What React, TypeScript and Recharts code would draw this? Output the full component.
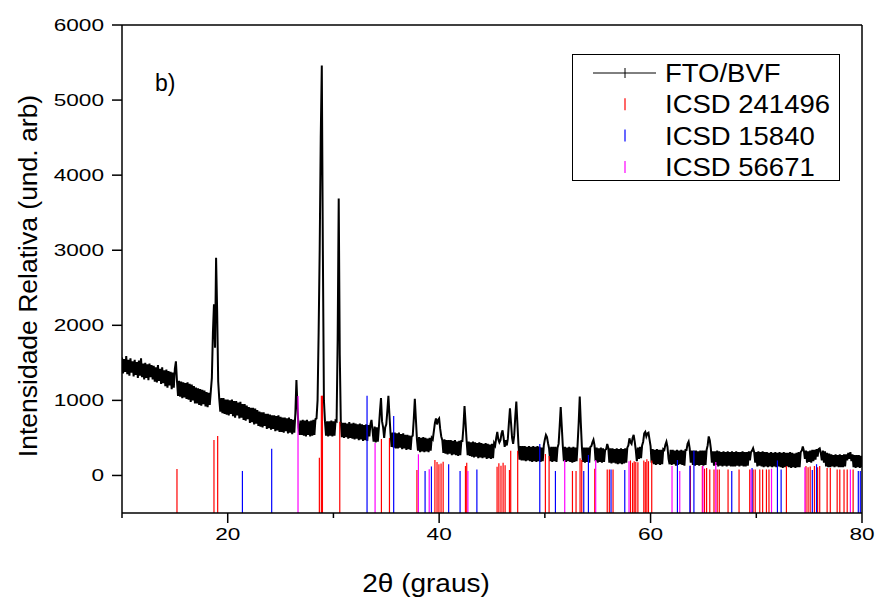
import { LineChart, Line, XAxis, YAxis, ReferenceLine, Legend } from 'recharts';

const FONT = 'Arial, "Liberation Sans", sans-serif';

// FTO/BVF scan: 2θ from 10.0 to 80.0 in 0.1° steps, one row per degree
const scanStart = 10;
const scanStep = 0.1;
const ftoBvfCounts: number[][] = [
  [1570, 1360, 1550, 1380, 1590, 1350, 1540, 1330, 1560, 1370],
  [1520, 1320, 1540, 1340, 1510, 1300, 1530, 1330, 1560, 1310],
  [1490, 1280, 1500, 1300, 1480, 1270, 1490, 1310, 1470, 1280],
  [1460, 1250, 1440, 1240, 1470, 1260, 1420, 1220, 1440, 1230],
  [1400, 1190, 1410, 1170, 1390, 1200, 1380, 1150, 1370, 1170],
  [1420, 1520, 1260, 1060, 1260, 1050, 1250, 1030, 1240, 1040],
  [1230, 1020, 1240, 1010, 1220, 980, 1210, 1000, 1190, 960],
  [1170, 960, 1160, 940, 1150, 930, 1140, 950, 1130, 920],
  [1110, 910, 1100, 940, 1120, 1300, 1900, 2280, 1700, 2900],
  [2200, 1250, 1020, 850, 1030, 830, 1030, 820, 1010, 810],
  [1010, 800, 1000, 820, 1010, 790, 990, 770, 990, 800],
  [970, 760, 980, 770, 950, 740, 950, 730, 930, 750],
  [910, 700, 900, 710, 900, 680, 890, 690, 870, 660],
  [850, 650, 840, 640, 840, 660, 820, 620, 820, 630],
  [810, 610, 800, 620, 800, 590, 790, 600, 800, 580],
  [780, 580, 770, 570, 770, 590, 760, 560, 770, 570],
  [750, 550, 740, 570, 830, 1270, 900, 640, 540, 730],
  [540, 740, 530, 730, 520, 740, 540, 720, 520, 730],
  [530, 740, 540, 750, 760, 1000, 1900, 3000, 4500, 5460],
  [3000, 1000, 720, 530, 720, 520, 720, 530, 730, 520],
  [720, 530, 730, 720, 1800, 3690, 1600, 700, 510, 700],
  [500, 700, 510, 690, 490, 710, 500, 690, 490, 700],
  [480, 690, 490, 680, 470, 690, 480, 680, 460, 670],
  [470, 680, 460, 670, 520, 680, 740, 600, 450, 650],
  [440, 640, 450, 640, 850, 1030, 720, 640, 500, 640],
  [680, 860, 1060, 800, 560, 380, 570, 370, 570, 360],
  [560, 360, 570, 370, 550, 350, 560, 360, 540, 340],
  [540, 350, 530, 340, 520, 530, 750, 1020, 750, 480],
  [330, 510, 310, 500, 320, 510, 310, 500, 320, 490],
  [310, 500, 330, 500, 480, 590, 700, 760, 680, 740],
  [760, 620, 520, 470, 300, 480, 290, 470, 280, 470],
  [290, 470, 270, 460, 280, 470, 270, 450, 260, 460],
  [270, 460, 460, 650, 925, 700, 460, 270, 450, 260],
  [440, 250, 450, 240, 440, 250, 430, 230, 440, 240],
  [430, 230, 420, 240, 430, 220, 420, 230, 410, 220],
  [420, 230, 430, 400, 500, 580, 480, 440, 470, 560],
  [600, 500, 380, 470, 400, 490, 700, 895, 700, 500],
  [420, 530, 780, 985, 700, 420, 210, 390, 200, 390],
  [200, 390, 190, 380, 200, 390, 190, 380, 180, 390],
  [190, 380, 180, 390, 190, 380, 180, 370, 190, 400],
  [480, 540, 510, 430, 360, 190, 380, 180, 380, 190],
  [380, 180, 370, 420, 650, 910, 650, 390, 190, 380],
  [180, 370, 190, 380, 180, 370, 170, 380, 180, 370],
  [190, 420, 700, 1050, 700, 390, 180, 370, 170, 370],
  [180, 370, 170, 380, 390, 440, 475, 400, 190, 370],
  [170, 360, 180, 370, 170, 360, 180, 340, 350, 420],
  [370, 170, 360, 160, 360, 170, 350, 160, 360, 150],
  [350, 160, 360, 150, 350, 160, 360, 170, 370, 400],
  [495, 440, 420, 500, 540, 450, 340, 190, 370, 220],
  [380, 230, 400, 450, 560, 580, 520, 560, 570, 480],
  [390, 170, 350, 150, 340, 140, 350, 150, 340, 140],
  [340, 150, 350, 340, 410, 450, 380, 220, 150, 340],
  [140, 340, 150, 330, 130, 340, 140, 330, 150, 340],
  [140, 330, 130, 340, 340, 420, 450, 360, 170, 330],
  [140, 330, 130, 330, 140, 320, 130, 330, 140, 330],
  [130, 330, 140, 340, 400, 520, 470, 360, 170, 320],
  [130, 320, 140, 330, 120, 320, 130, 310, 120, 320],
  [130, 310, 120, 320, 130, 310, 120, 320, 120, 310],
  [120, 320, 130, 310, 120, 310, 130, 320, 120, 310],
  [120, 310, 130, 320, 200, 310, 330, 362, 310, 170],
  [310, 120, 320, 130, 310, 120, 320, 110, 310, 120],
  [310, 110, 300, 120, 310, 110, 300, 120, 310, 110],
  [300, 120, 310, 110, 300, 100, 310, 110, 300, 120],
  [300, 110, 310, 100, 300, 110, 290, 100, 300, 110],
  [310, 110, 310, 330, 385, 330, 220, 330, 170, 320],
  [180, 330, 170, 340, 190, 340, 210, 350, 250, 350],
  [360, 300, 200, 330, 170, 320, 120, 300, 110, 290],
  [110, 280, 120, 270, 110, 280, 120, 270, 110, 280],
  [110, 270, 110, 280, 120, 280, 200, 300, 220, 310],
  [190, 280, 110, 270, 100, 270, 110, 270, 100, 260],
];
const ftoBvfLast = 110;

// reference patterns: [2θ, stick top]
const icsd241496: [number, number][] = [
  [15.2, 87], [18.7, 473], [19.05, 527], [28.67, 237], [28.86, 1063], [28.96, 1063],
  [30.6, 717], [34.54, 486], [35.3, 500], [37.9, 73], [39.6, 206], [39.8, 180],
  [39.98, 150], [40.18, 160], [40.38, 184], [42.49, 126], [42.61, 170], [45.48, 115],
  [45.65, 164], [45.85, 128], [46.05, 168], [46.24, 137], [46.65, 73], [46.77, 330],
  [47.43, 330], [50.05, 286], [50.4, 260], [52.61, 60], [52.95, 60], [53.33, 229],
  [53.49, 206], [54.72, 90], [55.9, 80], [56.1, 80], [56.45, 80], [58.1, 200],
  [58.3, 170], [58.45, 190], [58.6, 180], [58.8, 175], [59.36, 200], [59.5, 180],
  [59.65, 215], [59.8, 190], [60.11, 200], [63.77, 130], [64.9, 126], [65.1, 90],
  [65.3, 100], [65.6, 80], [66.0, 80], [66.3, 80], [66.5, 80], [67.33, 80],
  [68.37, 80], [69.38, 80], [69.7, 80], [69.9, 80], [70.33, 80], [70.6, 80],
  [70.96, 80], [71.2, 80], [72.85, 126], [74.7, 126], [74.9, 110], [75.1, 120],
  [75.5, 126], [75.8, 110], [76.0, 126], [76.7, 101], [77.0, 101], [77.65, 80],
  [77.9, 80], [78.3, 80], [78.6, 80], [79.16, 80],
];
const icsd15840: [number, number][] = [
  [21.39, 60], [24.16, 357], [33.18, 1063], [35.7, 792], [38.67, 60], [39.27, 120],
  [40.9, 150], [41.98, 60], [43.57, 80], [49.52, 420], [51.0, 60], [53.68, 60],
  [54.12, 273], [56.26, 80], [57.56, 73], [62.54, 206], [63.72, 130], [64.1, 330],
  [67.68, 60], [69.6, 101], [72.0, 200], [72.35, 80], [75.3, 73], [75.7, 150],
  [79.65, 60], [79.84, 60],
];
const icsd56671: [number, number][] = [
  [26.65, 1058], [33.94, 433], [38.04, 282], [39.06, 82], [42.72, 60], [51.88, 206],
  [54.81, 206], [57.96, 190], [62.03, 127], [62.76, 60], [64.95, 126], [66.17, 178],
  [69.5, 80], [71.44, 90], [74.6, 110], [78.9, 80],
];

const xTicks = [10, 20, 30, 40, 50, 60, 70, 80];
const xLabelTicks = [20, 40, 60, 80];
const yTicks = [0, 1000, 2000, 3000, 4000, 5000, 6000];
const yMinorTicks = [-500, 0, 500, 1000, 1500, 2000, 2500, 3000, 3500, 4000, 4500, 5000, 5500, 6000];

const legendRows = [
  { name: 'FTO/BVF', color: '#000000', kind: 'line' },
  { name: 'ICSD 241496', color: '#ff0000', kind: 'stick' },
  { name: 'ICSD 15840', color: '#0000ff', kind: 'stick' },
  { name: 'ICSD 56671', color: '#ff00ff', kind: 'stick' },
];

const scan = [...ftoBvfCounts.flat(), ftoBvfLast].map((counts, i) => ({
  theta: Math.round((scanStart + i * scanStep) * 10) / 10,
  counts,
}));

function YTick(props: any) {
  const { x, y, payload } = props;
  return (
    <g transform={`translate(${x},${y}) scale(1.37,1)`}>
      <text x={0} y={0} dy="0.36em" textAnchor="end" fontSize={16.5} fontFamily={FONT} fill="#000">
        {payload.value}
      </text>
    </g>
  );
}

function XTick(props: any) {
  const { x, y, payload } = props;
  const major = xLabelTicks.includes(payload.value);
  return (
    <g>
      <line x1={x} x2={x} y1={y} y2={y + (major ? 10 : 5)} stroke="#000" strokeWidth={1.5} />
      {major && (
        <g transform={`translate(${x},${y + 21}) scale(1.37,1)`}>
          <text x={0} y={0} dy="0.36em" textAnchor="middle" fontSize={16.5} fontFamily={FONT} fill="#000">
            {payload.value}
          </text>
        </g>
      )}
    </g>
  );
}

function LegendBox() {
  return (
    <div style={{ width: 268, height: 127, border: '1.5px solid #000', boxSizing: 'border-box', background: '#fff' }}>
      <svg width={265} height={124} style={{ overflow: 'visible', display: 'block' }}>
        {legendRows.map((row, i) => {
          const cy = 18 + i * 31.3;
          return (
            <g key={row.name}>
              {row.kind === 'line' ? (
                <g>
                  <line x1={20} x2={83} y1={cy} y2={cy} stroke="#000" strokeWidth={1} />
                  <line x1={52} x2={52} y1={cy - 5} y2={cy + 5} stroke="#000" strokeWidth={1} />
                </g>
              ) : (
                <line x1={52} x2={52} y1={cy - 6} y2={cy + 6} stroke={row.color} strokeWidth={1.2} />
              )}
              <g transform={`translate(92,${cy}) scale(1.1,1)`}>
                <text x={0} y={0} dy="0.36em" fontSize={25} fontFamily={FONT} fill="#000">
                  {row.name}
                </text>
              </g>
            </g>
          );
        })}
      </svg>
    </div>
  );
}

function sticks(list: [number, number][], color: string, prefix: string) {
  return list.map(([t, h]) => (
    <ReferenceLine
      key={`${prefix}-${t}`}
      segment={[{ x: t, y: -500 }, { x: t, y: h }]}
      stroke={color}
      strokeWidth={1.2}
      ifOverflow="visible"
    />
  ));
}

export default function App() {
  return (
    <div style={{ position: 'absolute', left: 0, top: 0, background: '#fff' }}>
      <LineChart width={877} height={599} data={scan} margin={{ top: 25, right: 15, left: 0, bottom: 0 }}>
        <XAxis
          dataKey="theta"
          type="number"
          domain={[10, 80]}
          ticks={xTicks}
          interval={0}
          allowDataOverflow
          height={86}
          tickSize={0}
          tickMargin={0}
          tickLine={false}
          tick={(p: any) => <XTick {...p} />}
          axisLine={{ stroke: '#000', strokeWidth: 1.5 }}
          label={{
            content: () => (
              <g transform="translate(426,584) scale(1.12,1)">
                <text x={0} y={0} textAnchor="middle" dominantBaseline="central" fontSize={25} fontFamily={FONT} fill="#000">
                  2θ (graus)
                </text>
              </g>
            ),
          }}
        />
        <XAxis
          xAxisId="top"
          orientation="top"
          type="number"
          domain={[10, 80]}
          ticks={xTicks}
          mirror
          tick={false}
          tickSize={3}
          tickLine={{ stroke: '#000' }}
          axisLine={{ stroke: '#000', strokeWidth: 1.5 }}
        />
        <YAxis
          type="number"
          domain={[-500, 6000]}
          ticks={yTicks}
          interval={0}
          allowDataOverflow
          width={122}
          tickSize={10}
          tickMargin={8}
          tick={(p: any) => <YTick {...p} />}
          tickLine={{ stroke: '#000', strokeWidth: 1.5 }}
          axisLine={{ stroke: '#000', strokeWidth: 1.5 }}
          label={{
            content: () => (
              <g>
                <text
                  transform="translate(28,276) rotate(-90)"
                  textAnchor="middle"
                  dominantBaseline="central"
                  fontSize={26.5}
                  fontFamily={FONT}
                  fill="#000"
                >
                  Intensidade Relativa (und. arb)
                </text>
                <text x={155} y={91} fontSize={23} fontFamily={FONT} fill="#000">
                  b)
                </text>
              </g>
            ),
          }}
        />
        <YAxis
          yAxisId="leftMinor"
          orientation="left"
          type="number"
          domain={[-500, 6000]}
          ticks={yMinorTicks}
          interval={0}
          mirror
          tick={false}
          tickSize={3}
          tickLine={{ stroke: '#000' }}
          axisLine={false}
        />
        <YAxis
          yAxisId="right"
          orientation="right"
          type="number"
          domain={[-500, 6000]}
          ticks={yMinorTicks}
          interval={0}
          mirror
          tick={false}
          tickSize={3}
          tickLine={{ stroke: '#000' }}
          axisLine={{ stroke: '#000', strokeWidth: 1.5 }}
        />
        <Line
          type="linear"
          dataKey="counts"
          name="FTO/BVF"
          stroke="#000"
          strokeWidth={2}
          strokeLinejoin="miter"
          dot={false}
          isAnimationActive={false}
        />
        {sticks(icsd241496, '#ff0000', 'r')}
        {sticks(icsd15840, '#0000ff', 'b')}
        {sticks(icsd56671, '#ff00ff', 'm')}
        <Legend
          layout="horizontal"
          verticalAlign="middle"
          align="center"
          wrapperStyle={{ left: 572, top: 54, width: 268, height: 127 }}
          content={() => <LegendBox />}
        />
      </LineChart>
    </div>
  );
}
